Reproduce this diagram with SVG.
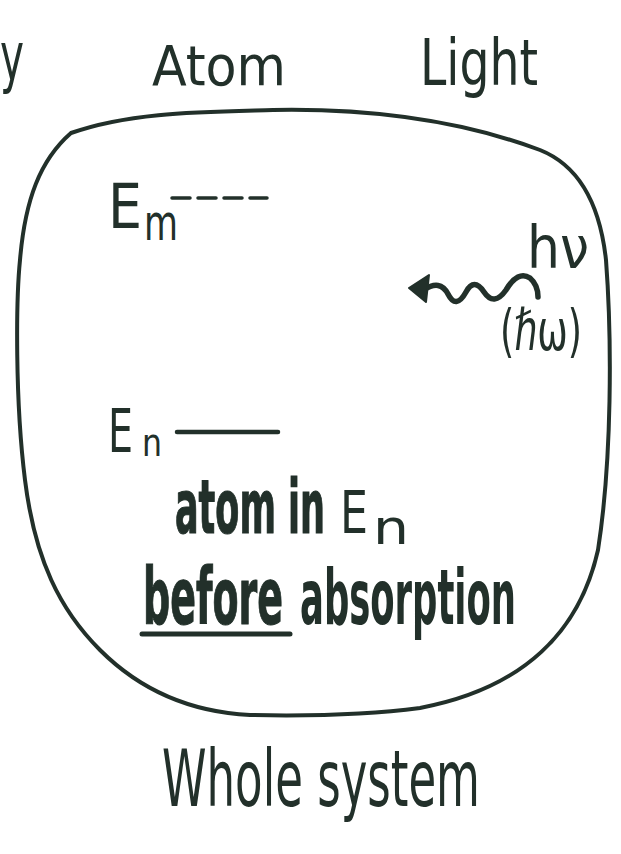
<svg xmlns="http://www.w3.org/2000/svg" width="621" height="854" viewBox="0 0 621 854">
  <style>
    .hw { font-family: "DejaVu Sans Condensed", "Liberation Sans", sans-serif; fill: #22302a; }
    .bold { font-weight: bold; }
    .outline { stroke: #22302a; stroke-width: 0.6; }
    .ink { fill: none; stroke: #22302a; stroke-linecap: round; stroke-linejoin: round; }
  </style>
  <rect width="621" height="854" fill="#ffffff"/>

  <g id="fragment">
    <text class="hw" transform="translate(0,80) scale(1,1.7)" font-size="40" textLength="24" lengthAdjust="spacingAndGlyphs">y</text>
  </g>

  <g id="atom-heading">
    <text class="hw" x="152" y="85" font-size="56" textLength="134" lengthAdjust="spacingAndGlyphs">Atom</text>
  </g>
  <g id="light-heading">
    <text class="hw" transform="translate(420,85) scale(1,1.22)" font-size="52" textLength="118" lengthAdjust="spacingAndGlyphs">Light</text>
  </g>

  <g id="whole-system">
    <path class="ink" stroke-width="4" d="M 71,133 C 130,112 200,112 273,110 C 380,108 470,124 540,150 C 580,166 600,205 606,260 C 612,340 612,460 598,550 C 580,630 525,688 420,708 C 360,716 300,716 250,715 C 190,712 140,690 100,650 C 60,610 35,560 25,480 C 15,400 16,300 20,260 C 25,200 40,160 71,133 Z"/>
  </g>

  <g id="level-Em">
    <text class="hw" x="108" y="228" font-size="62" textLength="34" lengthAdjust="spacingAndGlyphs">E</text>
    <text class="hw" transform="translate(144,240) scale(1,1.3)" font-size="38" textLength="34" lengthAdjust="spacingAndGlyphs">m</text>
    <line class="ink" x1="172" y1="198" x2="267" y2="198" stroke-width="3.5" stroke-dasharray="18 8"/>
  </g>

  <g id="level-En">
    <text class="hw" x="108" y="452" font-size="60" textLength="25" lengthAdjust="spacingAndGlyphs">E</text>
    <text class="hw" transform="translate(142,456) scale(1,1.2)" font-size="32" textLength="20" lengthAdjust="spacingAndGlyphs">n</text>
    <line class="ink" x1="177" y1="432" x2="278" y2="432" stroke-width="4.5"/>
  </g>

  <g id="photon">
    <text class="hw" transform="translate(527,268) scale(1,1.1)" font-size="54" textLength="62" lengthAdjust="spacingAndGlyphs">hν</text>
    <text class="hw" transform="translate(500,350) scale(1,1.4)" font-size="41" textLength="82" lengthAdjust="spacingAndGlyphs">(ℏω)</text>
  </g>

  <g id="connectors">
    <path class="ink" stroke-width="5.5" d="M 424,290 Q 440,279 448,294 Q 456,310 466,292 Q 474,277 484,292 Q 494,307 506,290 Q 518,270 530,278 Q 538,285 538,297"/>
    <polygon points="409,288 429,275 426,302" fill="#22302a" stroke="#22302a" stroke-width="2" stroke-linejoin="round"/>
  </g>

  <g id="caption">
    <text class="hw bold outline" transform="translate(175,533) scale(1,1.9)" font-size="39" textLength="150" lengthAdjust="spacingAndGlyphs">atom in</text>
    <text class="hw" transform="translate(340,533) scale(1,1.1)" font-size="54" textLength="28" lengthAdjust="spacingAndGlyphs">E</text>
    <text class="hw" transform="translate(373,544) scale(1,1.2)" font-size="40" textLength="36" lengthAdjust="spacingAndGlyphs">n</text>
    <text class="hw bold outline" transform="translate(143,624) scale(1,1.85)" font-size="42" textLength="140" lengthAdjust="spacingAndGlyphs">before</text>
    <text class="hw bold" transform="translate(300,624) scale(1,1.9)" font-size="40" textLength="216" lengthAdjust="spacingAndGlyphs">absorption</text>
    <line class="ink" x1="142" y1="634" x2="290" y2="634" stroke-width="5"/>
  </g>

  <g id="whole-system-label">
    <text class="hw" transform="translate(162,806) scale(1,1.55)" font-size="50" textLength="318" lengthAdjust="spacingAndGlyphs">Whole system</text>
  </g>
</svg>
